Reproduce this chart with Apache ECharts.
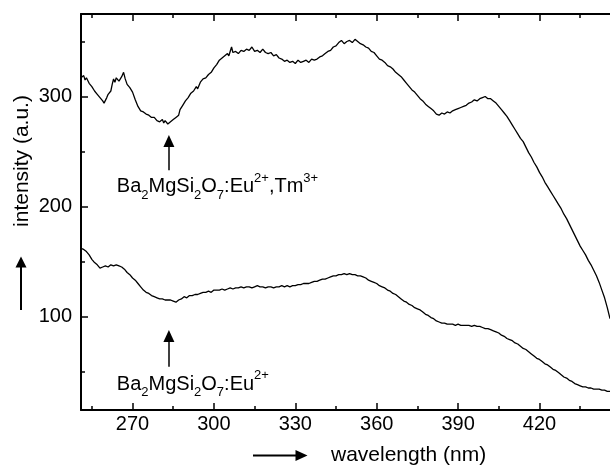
<!DOCTYPE html>
<html>
<head>
<meta charset="utf-8">
<script src="https://cdn.jsdelivr.net/npm/echarts@6/dist/echarts.min.js"></script>
<style>
  html, body { margin: 0; padding: 0; background: #fff; }
  #chart { width: 610px; height: 466px; }
</style>
</head>
<body>
<div id="chart"></div>
<script>
// Excitation spectra of the two phosphors: [wavelength (nm), intensity (a.u.)]
const spectrumEuTm = [
  [251,317],[252,319],[252.5,315],[253,317],[254,312],[255,309],[256,305],[257,302],[258,299],[259,296],
  [259.5,294],[260.5,299],[261,302],[262,305],[262.5,311],[263,316],[263.5,313],[264,317],[265,314],[266,318],
  [266.7,322],[267.3,316],[268,311],[269,308],[270,304],[271,297],[272,291],[273,287],[274,286],[275,284],
  [276,283],[277,281],[278,281],[279,278],[280,277],[281,279],[281.5,276],[282,278],[283,275],[283.5,276],
  [284,277],[285,279],[286,281],[287,283],[287.5,288],[288.5,292],[289.5,296],[290.5,299],[291.5,303],[292.5,305],
  [293.5,309],[294,307],[295,313],[296,316],[297,317],[298,320],[299,322],[300,326],[301,329],[302,333],
  [303,335],[304,337],[305,339],[305.5,337],[306.5,345],[307,340],[308,341],[309,339],[310,342],[311,341],
  [312,343],[313,342],[314,345],[315,341],[316,342],[317,340],[318,343],[319,340],[320,339],[321,340],
  [322,337],[323,338],[324,335],[325,334],[326,332],[327,333],[328,331],[329,332],[330,330],[331,333],
  [332,331],[333,332],[334,333],[335,331],[336,334],[337,333],[338,334],[339,336],[340,337],[341,339],
  [342,341],[343,342],[344,345],[345,346],[346,349],[347,351],[348,348],[349,350],[350,351],[351,349],
  [352,352],[353,350],[354,348],[355,347],[356,345],[357,344],[358,341],[359,340],[360,337],[361,334],
  [362,333],[363,331],[364,328],[365,327],[366,325],[367,322],[368,320],[369,318],[370,315],[371,312],
  [372,309],[373,306],[374,304],[375,301],[376,298],[377,296],[378,293],[379,291],[380,289],[381,287],
  [382,284],[383,283],[384,285],[385,284],[386,286],[387,285],[388,287],[389,288],[390,289],[391,290],
  [392,291],[393,292],[394,294],[395,295],[396,297],[397,296],[398,298],[399,299],[400,300],[401,298],
  [402,298],[403,296],[404,294],[405,291],[406,288],[407,285],[408,282],[409,278],[410,274],[411,270],
  [412,266],[413,262],[414,259],[415,254],[416,249],[417,245],[418,240],[419,236],[420,231],[421,227],
  [422,222],[423,218],[424,214],[425,210],[426,206],[427,202],[428,198],[429,193],[430,189],[431,184],
  [432,179],[433,174],[434,169],[435,164],[436,160],[437,156],[438,151],[439,147],[440,142],[441,137],
  [442,131],[443,124],[444,117],[445,108],[446,98]
];

const spectrumEu = [
  [251,162],[252,161],[253,159],[254,156],[255,152],[256,149],[257,147],[258,144],[259,145],[260,146],
  [261,145],[262,147],[263,146],[264,147],[265,146],[266,145],[267,143],[268,140],[269,138],[270,135],
  [271,133],[272,130],[273,127],[274,124],[275,122],[276,121],[277,119],[278,118],[279,117],[280,116],
  [281,116],[282,115],[283,115],[284,115],[285,114],[286,113],[287,115],[288,116],[289,118],[290,117],
  [291,119],[292,119],[293,120],[294,120],[295,121],[296,122],[297,122],[298,123],[299,122],[300,124],
  [301,124],[302,124],[303,125],[304,124],[305,125],[306,126],[307,125],[308,126],[309,126],[310,127],
  [311,126],[312,127],[313,127],[314,126],[315,127],[316,128],[317,127],[318,127],[319,126],[320,127],
  [321,127],[322,126],[323,127],[324,127],[325,128],[326,127],[327,128],[328,127],[329,128],[330,128],
  [331,129],[332,129],[333,130],[334,130],[335,130],[336,131],[337,132],[338,132],[339,133],[340,134],
  [341,134],[342,135],[343,136],[344,137],[345,137],[346,138],[347,138],[348,139],[349,138],[350,139],
  [351,138],[352,138],[353,137],[354,137],[355,136],[356,135],[357,133],[358,132],[359,131],[360,130],
  [361,128],[362,127],[363,126],[364,124],[365,123],[366,121],[367,120],[368,118],[369,116],[370,114],
  [371,113],[372,111],[373,110],[374,108],[375,107],[376,106],[377,104],[378,102],[379,101],[380,99],
  [381,98],[382,96],[383,95],[384,94],[385,94],[386,93],[387,93],[388,93],[389,92],[390,93],
  [391,92],[392,92],[393,92],[394,92],[395,91],[396,92],[397,91],[398,91],[399,90],[400,89],
  [401,89],[402,88],[403,87],[404,86],[405,85],[406,83],[407,82],[408,80],[409,79],[410,78],
  [411,76],[412,75],[413,73],[414,71],[415,70],[416,68],[417,66],[418,64],[419,62],[420,61],
  [421,59],[422,57],[423,56],[424,54],[425,52],[426,51],[427,49],[428,47],[429,45],[430,44],
  [431,42],[432,41],[433,39],[434,38],[435,37],[436,36],[437,36],[438,35],[439,35],[440,34],
  [441,34],[442,34],[443,33],[444,33],[445,32],[446,32]
];

// Axis ranges and tick positions
const wavelengthRange = [251, 446];
const intensityRange = [15, 375];
const wavelengthTicks = [270, 300, 330, 360, 390, 420];
const wavelengthMinorTicks = [255, 285, 315, 345, 375, 405, 435];
const intensityTicks = [100, 200, 300];
const intensityMinorTicks = [50, 150, 250, 350];

// Sample labels: [wavelength, intensity, text]
const sampleLabels = [
  [264.2, 218, '{m|Ba}{s|2}{m|MgSi}{s|2}{m|O}{s|7}{m|:Eu}{p|2+}{m|,Tm}{p|3+}'],
  [264.2, 38.6, '{m|Ba}{s|2}{m|MgSi}{s|2}{m|O}{s|7}{m|:Eu}{p|2+}'],
];
// Pointer arrows: [wavelength, tail intensity, head intensity]
const pointerArrows = [
  [283.4, 233, 259.5],
  [283.4, 54.4, 82.2],
];

const FONT = "'Liberation Sans', Arial, Helvetica, sans-serif";
const INK = '#000';

function xAxisDef(position, values, len, withLine, withLabels) {
  return {
    type: 'value', min: wavelengthRange[0], max: wavelengthRange[1], position: position,
    axisLine: { show: withLine, onZero: false, lineStyle: { color: INK, width: 2 } },
    axisTick: { show: true, inside: true, length: len, customValues: values, lineStyle: { color: INK, width: 1.5 } },
    axisLabel: withLabels
      ? { show: true, customValues: values, color: INK, fontSize: 20, fontFamily: FONT, margin: 4 }
      : { show: false },
    splitLine: { show: false }
  };
}
function yAxisDef(values, len, withLine, withLabels) {
  return {
    type: 'value', min: intensityRange[0], max: intensityRange[1], position: 'left',
    axisLine: { show: withLine, onZero: false, lineStyle: { color: INK, width: 2 } },
    axisTick: { show: true, inside: true, length: len, customValues: values, lineStyle: { color: INK, width: 1.5 } },
    axisLabel: withLabels
      ? { show: true, customValues: values, color: INK, fontSize: 20, fontFamily: FONT, margin: 9 }
      : { show: false },
    splitLine: { show: false }
  };
}

const richStyles = {
  m: { fontSize: 20, fontFamily: FONT, color: INK, lineHeight: 30 },
  s: { fontSize: 13, fontFamily: FONT, color: INK, lineHeight: 22, verticalAlign: 'bottom' },
  p: { fontSize: 13, fontFamily: FONT, color: INK, lineHeight: 6, verticalAlign: 'top' }
};

const chart = echarts.init(document.getElementById('chart'), null, { renderer: 'canvas' });
chart.setOption({
  animation: false,
  backgroundColor: '#fff',
  grid: { left: 81, right: 0, top: 14, bottom: 56, containLabel: false },
  xAxis: [
    xAxisDef('bottom', wavelengthTicks, 7, true, true),
    xAxisDef('bottom', wavelengthMinorTicks, 4, false, false),
    xAxisDef('top', wavelengthTicks, 7, true, false),
    xAxisDef('top', wavelengthMinorTicks, 4, false, false)
  ],
  yAxis: [
    yAxisDef(intensityTicks, 7, true, true),
    yAxisDef(intensityMinorTicks, 4, false, false)
  ],
  series: [
    {
      type: 'line', data: spectrumEuTm, showSymbol: false, symbol: 'none',
      lineStyle: { color: INK, width: 1.3 }, xAxisIndex: 0, yAxisIndex: 0
    },
    {
      type: 'line', data: spectrumEu, showSymbol: false, symbol: 'none',
      lineStyle: { color: INK, width: 1.3 }, xAxisIndex: 0, yAxisIndex: 0
    },
    {
      type: 'scatter', xAxisIndex: 0, yAxisIndex: 0, symbolSize: 0, silent: true,
      itemStyle: { color: INK, opacity: 1 },
      data: sampleLabels.map(d => ({ value: [d[0], d[1]], text: d[2] })),
      label: {
        show: true, position: 'right', distance: 0, color: INK, opacity: 1,
        textBorderWidth: 0, formatter: p => p.data.text, rich: richStyles
      },
      markLine: {
        silent: true, symbol: ['none', 'triangle'], symbolSize: [11, 12],
        lineStyle: { color: INK, width: 1.5, type: 'solid' },
        itemStyle: { color: INK },
        label: { show: false },
        data: pointerArrows.map(a => [{ coord: [a[0], a[1]] }, { coord: [a[0], a[2]] }])
      }
    }
  ],
  graphic: [
    // axis titles with direction arrows
    {
      type: 'text', x: 22, y: 161, rotation: Math.PI / 2,
      style: { text: 'intensity (a.u.)', fill: INK, font: '21px ' + FONT, align: 'center', verticalAlign: 'middle' }
    },
    { type: 'line', shape: { x1: 21, y1: 310, x2: 21, y2: 266 }, style: { stroke: INK, lineWidth: 2 } },
    { type: 'polygon', shape: { points: [[15.5, 267.5], [26.5, 267.5], [21, 256.5]] }, style: { fill: INK } },
    { type: 'line', shape: { x1: 253, y1: 455.5, x2: 297, y2: 455.5 }, style: { stroke: INK, lineWidth: 2 } },
    { type: 'polygon', shape: { points: [[295.5, 450], [295.5, 461], [307.5, 455.5]] }, style: { fill: INK } },
    {
      type: 'text', x: 331, y: 455,
      style: { text: 'wavelength (nm)', fill: INK, font: '21px ' + FONT, align: 'left', verticalAlign: 'middle' }
    }
  ]
});
</script>
</body>
</html>
